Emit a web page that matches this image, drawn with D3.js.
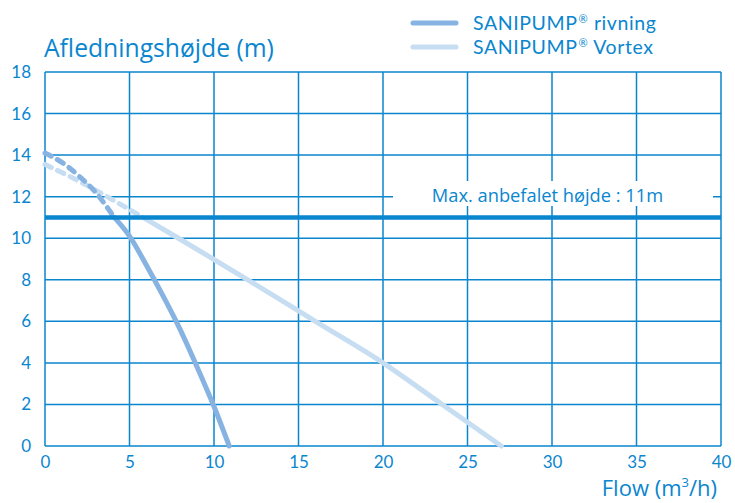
<!DOCTYPE html>
<html>
<head>
<meta charset="utf-8">
<script src="https://cdn.jsdelivr.net/npm/d3@7"></script>
<style>
  html, body { margin: 0; padding: 0; background: #fff; }
  svg { display: block; }
</style>
</head>
<body>
<svg id="chart" width="735" height="503"></svg>
<script>
// ---- data ----
const xTicks = [0, 5, 10, 15, 20, 25, 30, 35, 40];
const yTicks = [0, 2, 4, 6, 8, 10, 12, 14, 16, 18];
const seriesNames = [["SANIPUMP", "®", " rivning"], ["SANIPUMP", "®", " Vortex"]];
const rivningFlow = [0, 1, 2, 3, 4.1, 5, 6, 7, 8, 9, 10, 10.9];
const rivningHead = [14.1, 13.65, 13.0, 12.2, 11.0, 10.1, 8.7, 7.2, 5.6, 3.8, 1.9, 0];
const vortexFlow = [0, 2, 4, 5.8, 8, 12, 16, 20, 23.5, 27];
const vortexHead = [13.55, 12.75, 11.85, 11.0, 9.95, 8, 6, 4, 2, 0];
const maxHeight = 11;
const maxLabel = "Max. anbefalet højde : 11m";
const yTitle = "Afledningshøjde (m)";
const xTitleParts = ["Flow (m", "3", "/h)"];

// ---- setup ----
const blue = "#0a86cf";
const colRivning = "#86b3e1";
const colVortex = "#c6ddf2";
const svg = d3.select("#chart");
const x = d3.scaleLinear().domain([0, 40]).range([45, 721]);
const y = d3.scaleLinear().domain([0, 18]).range([446, 72]);
const fontTick = "Lato, 'Open Sans', sans-serif";
const fontTitle = "'Open Sans', 'Noto Sans', sans-serif";

// grid
const grid = svg.append("g");
grid.selectAll("line.v").data(xTicks).join("line")
  .attr("x1", d => x(d)).attr("x2", d => x(d))
  .attr("y1", y(18)).attr("y2", y(0))
  .attr("stroke", blue).attr("stroke-width", 1.5);
grid.selectAll("line.h").data(yTicks).join("line")
  .attr("y1", d => y(d)).attr("y2", d => y(d))
  .attr("x1", x(0)).attr("x2", x(40))
  .attr("stroke", blue).attr("stroke-width", 1.5);

// axes (labels only)
const xAxis = d3.axisBottom(x).tickValues(xTicks).tickSize(0).tickPadding(10);
const gx = svg.append("g").attr("transform", `translate(0,${y(0)})`).call(xAxis);
gx.select(".domain").remove();
gx.selectAll("text").attr("fill", blue).attr("font-size", 17).attr("font-family", fontTick);

const yAxis = d3.axisLeft(y).tickValues(yTicks).tickSize(0).tickPadding(14);
const gy = svg.append("g").attr("transform", `translate(${x(0)},0)`).call(yAxis);
gy.select(".domain").remove();
gy.selectAll("text").attr("fill", blue).attr("font-size", 17).attr("font-family", fontTick);

// curves
const line = d3.line().x(d => x(d[0])).y(d => y(d[1])).curve(d3.curveMonotoneX);
function drawSeries(flows, heads, color) {
  const pts = flows.map((f, i) => [f, heads[i]]);
  const upper = pts.filter(p => p[1] >= maxHeight);
  const lower = pts.filter(p => p[1] <= maxHeight);
  svg.append("path").attr("d", line(upper)).attr("fill", "none")
    .attr("stroke", color).attr("stroke-width", 5).attr("stroke-linecap", "round")
    .attr("stroke-dasharray", "7,7");
  svg.append("path").attr("d", line(lower)).attr("fill", "none")
    .attr("stroke", color).attr("stroke-width", 5).attr("stroke-linecap", "round");
}
drawSeries(vortexFlow, vortexHead, colVortex);
drawSeries(rivningFlow, rivningHead, colRivning);

// max line
svg.append("line")
  .attr("x1", x(0)).attr("x2", x(40))
  .attr("y1", y(maxHeight)).attr("y2", y(maxHeight))
  .attr("stroke", blue).attr("stroke-width", 4.5);

// max label with white background
svg.append("rect").attr("x", 393).attr("y", 181).attr("width", 320).attr("height", 25).attr("fill", "#fff");
svg.append("text").attr("x", 547.5).attr("y", 202).attr("text-anchor", "middle")
  .attr("fill", blue).attr("font-size", 18.3).attr("font-family", fontTitle)
  .text(maxLabel);

// titles
svg.append("text").attr("x", 44).attr("y", 57)
  .attr("fill", blue).attr("font-size", 24.7).attr("font-family", fontTitle)
  .text(yTitle);
const xt = svg.append("text").attr("x", 717).attr("y", 496).attr("text-anchor", "end")
  .attr("fill", blue).attr("font-size", 22).attr("font-family", fontTitle);
xt.append("tspan").text(xTitleParts[0]);
xt.append("tspan").attr("font-size", 13).attr("dy", -9).text(xTitleParts[1]);
xt.append("tspan").attr("dy", 9).text(xTitleParts[2]);

// legend
const legendColors = [colRivning, colVortex];
const lg = svg.append("g");
seriesNames.forEach((n, i) => {
  const ly = 23 + i * 24;
  lg.append("line").attr("x1", 413).attr("x2", 456).attr("y1", ly).attr("y2", ly)
    .attr("stroke", legendColors[i]).attr("stroke-width", 5).attr("stroke-linecap", "round");
  const t = lg.append("text").attr("x", 473).attr("y", ly + 7)
    .attr("fill", blue).attr("font-size", 19.5).attr("font-family", fontTick)
    .attr("letter-spacing", 0.6);
  t.append("tspan").text(n[0]);
  t.append("tspan").attr("font-size", 11).attr("dy", -7).attr("dx", 1).text(n[1]);
  t.append("tspan").attr("dy", 7).text(n[2]);
});
</script>
</body>
</html>
